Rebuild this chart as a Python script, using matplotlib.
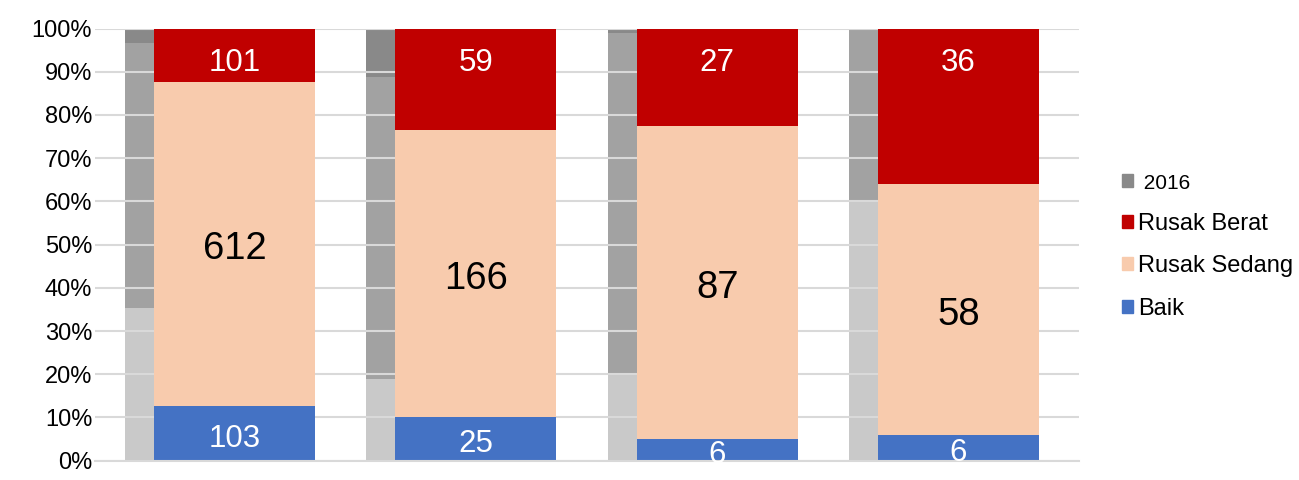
import numpy as np
import matplotlib.pyplot as plt
from matplotlib.patches import Patch

plt.rcParams['font.family'] = ['Liberation Sans', 'DejaVu Sans']

# data 2017 (jumlah) dan 2016 (persen)
groups = ["A", "B", "C", "D"]
baik = np.array([103, 25, 6, 6])
rusak_sedang = np.array([612, 166, 87, 58])
rusak_berat = np.array([101, 59, 27, 36])

g16_baik = np.array([35.3, 18.9, 19.8, 60.3])
g16_sedang = np.array([61.3, 69.9, 79.2, 39.7])
g16_berat = np.array([3.4, 11.2, 1.0, 0.0])

total = baik + rusak_sedang + rusak_berat
p_baik = baik / total * 100
p_sedang = rusak_sedang / total * 100
p_berat = rusak_berat / total * 100

c_baik = "#4472c4"
c_sedang = "#f8cbad"
c_berat = "#c00000"
c_gray = ["#c9c9c9", "#a2a2a2", "#898989"]

fig = plt.figure(figsize=(12.99, 4.8), dpi=100)
ax = fig.add_axes([95 / 1299, 19.3 / 480, (1079 - 95) / 1299, (460.7 - 28.5) / 480])

x = np.arange(len(groups))
w = 0.667
wg = 0.12

# 2016 (abu-abu), di bawah gridline
ax.bar(x - wg, g16_baik, wg, align="edge", color=c_gray[0], zorder=1)
ax.bar(x - wg, g16_sedang, wg, bottom=g16_baik, align="edge", color=c_gray[1], zorder=1)
ax.bar(x - wg, g16_berat, wg, bottom=g16_baik + g16_sedang, align="edge", color=c_gray[2], zorder=1)

# 2017
ax.bar(x, p_baik, w, align="edge", color=c_baik, zorder=2)
ax.bar(x, p_sedang, w, bottom=p_baik, align="edge", color=c_sedang, zorder=2)
ax.bar(x, p_berat, w, bottom=p_baik + p_sedang, align="edge", color=c_berat, zorder=2)

dy = 1.2  # geser sedikit ke bawah supaya angka pas di tengah
for i in range(len(groups)):
    cx = x[i] + w / 2
    ax.text(cx, p_baik[i] / 2 - dy, str(baik[i]), ha="center", va="center",
            color="white", fontsize=22.5, zorder=3)
    ax.text(cx, p_baik[i] + p_sedang[i] / 2 - dy, str(rusak_sedang[i]), ha="center",
            va="center", color="black", fontsize=27.5, zorder=3)
    # label rusak berat di ujung atas batang (inside end)
    ax.text(cx, 100 - 8.0, str(rusak_berat[i]),
            ha="center", va="center", color="white", fontsize=22.5, zorder=3)

ax.set_xlim(-0.2445, 3.833)
ax.set_ylim(0, 100)
ax.set_yticks(np.arange(0, 101, 10))
ax.set_yticklabels([f"{v}%" for v in range(0, 101, 10)], fontsize=17)
ax.set_xticks([])
ax.tick_params(axis="y", length=0, pad=2)
ax.set_axisbelow("line")
ax.yaxis.grid(True, color="#d9d9d9", linewidth=1.5)
for s in ["top", "right", "left"]:
    ax.spines[s].set_visible(False)
ax.spines["bottom"].set_color("#d9d9d9")
ax.spines["bottom"].set_linewidth(1.5)

handles = [Patch(color=c_gray[2], label=" 2016"),
           Patch(color=c_berat, label="Rusak Berat"),
           Patch(color=c_sedang, label="Rusak Sedang"),
           Patch(color=c_baik, label="Baik")]
leg = fig.legend(handles=handles, loc="center left", bbox_to_anchor=(1122 / 1299, 0.486),
                 frameon=False, fontsize=17, handlelength=0.47, handleheight=0.47,
                 handletextpad=0.22, labelspacing=0.86, borderpad=0, borderaxespad=0)
leg.get_texts()[0].set_fontsize(15)

fig.savefig("out.png", dpi=100)
